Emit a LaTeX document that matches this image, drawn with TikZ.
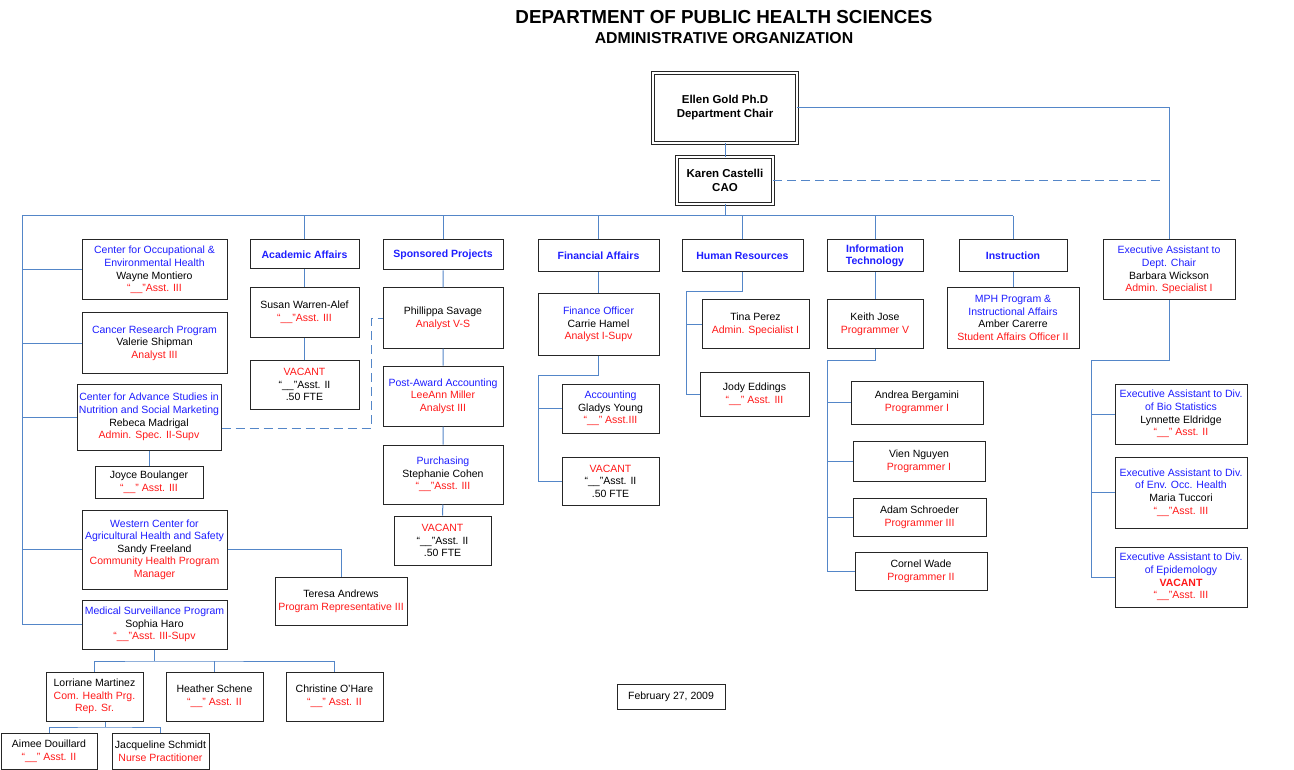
\documentclass[tikz,border=0pt]{standalone}
\usepackage{fontspec}
\setmainfont{Liberation Sans}
\usetikzlibrary{positioning}
\definecolor{orgblue}{RGB}{30,30,255}
\definecolor{orgred}{RGB}{255,25,25}
\definecolor{linkblue}{RGB}{84,134,200}
\newcommand{\bl}[1]{\textcolor{orgblue}{#1}}
\newcommand{\rd}[1]{\textcolor{orgred}{#1}}
\newcommand{\qq}{“\_\_”}
\tikzset{pbox/.style 2 args = {draw=black!85, line width=1pt, fill=white, align=center,
                               inner sep=0.5pt, minimum width=#1, minimum height=#2,
                               font=\fontsize{10.5}{12.6}\selectfont}}
\tikzset{hbox/.style 2 args = {pbox={#1}{#2}, font=\fontsize{10.5}{12.6}\selectfont\bfseries\color{orgblue}}}
\tikzset{chief/.style 2 args = {pbox={#1}{#2}, double=white, double distance=1.6pt, line width=0.8pt,
                                font=\fontsize{11.5}{14}\selectfont\bfseries}}
\tikzset{link/.style = {draw=linkblue, line width=1pt}}
\tikzset{dlink/.style = {link, dash pattern=on 9pt off 5pt}}

\begin{document}
\begin{tikzpicture}[x=1pt, y=-1pt]
      \useasboundingbox (0,0) rectangle (1294,770);
      \node [font=\fontsize{18.8}{22}\selectfont\bfseries] (title) at (724,17) {DEPARTMENT OF PUBLIC HEALTH SCIENCES};
      \node [font=\fontsize{15.8}{18}\selectfont\bfseries] (subtitle) at (724,38) {ADMINISTRATIVE ORGANIZATION};
      % top of the tree
      \node [chief={144}{70}] (chair) at (725,108) {Ellen Gold Ph.D\\Department Chair};
      \node [chief={96}{47}] (cao) at (725,180.5) {Karen Castelli\\CAO};
      \node [pbox={132}{60}] (exec) at (1169,270) {\bl{Executive Assistant to}\\\bl{Dept. Chair}\\Barbara Wickson\\\rd{Admin. Specialist I}};
      % left column
      \node [pbox={145}{60}] (coeh) at (154.5,270) {\bl{Center for Occupational \&}\\\bl{Environmental Health}\\Wayne Montiero\\\rd{\qq Asst. III}};
      \node [pbox={145}{60}] (cancer) at (154.5,343) {\bl{Cancer Research Program}\\Valerie Shipman\\\rd{Analyst III}};
      \node [pbox={144}{66}] (casn) at (149,417) {\bl{Center for Advance Studies in}\\\bl{Nutrition and Social Marketing}\\Rebeca Madrigal\\\rd{Admin. Spec. II-Supv}};
      \node [pbox={108}{32}] (joyce) at (149,482) {Joyce Boulanger\\\rd{\qq{} Asst. III}};
      \node [pbox={145}{79}] (western) at (154.5,549.5) {\bl{Western Center for}\\\bl{Agricultural Health and Safety}\\Sandy Freeland\\\rd{Community Health Program}\\\rd{Manager}};
      \node [pbox={132}{48}] (teresa) at (341,601) {Teresa Andrews\\\rd{Program Representative III}};
      \node [pbox={145}{49}] (med) at (154.5,624.5) {\bl{Medical Surveillance Program}\\Sophia Haro\\\rd{\qq Asst. III-Supv}};
      \node [pbox={97}{49}] (lorr) at (94.5,696.5) {Lorriane Martinez\\\rd{Com. Health Prg.}\\\rd{Rep. Sr.}};
      \node [pbox={97}{49}] (heath) at (214.5,696.5) {Heather Schene\\\rd{\qq{} Asst. II}};
      \node [pbox={97}{49}] (chris) at (334.5,696.5) {Christine O’Hare\\\rd{\qq{} Asst. II}};
      \node [pbox={96}{36}] (aimee) at (49,751) {Aimee Douillard\\\rd{\qq{} Asst. II}};
      \node [pbox={97}{36}] (jacq) at (160.5,751) {Jacqueline Schmidt\\\rd{Nurse Practitioner}};
      % academic affairs and sponsored projects
      \node [hbox={109}{29}] (acad) at (304.5,254.5) {Academic Affairs};
      \node [pbox={109}{49}] (susan) at (304.5,312.5) {Susan Warren-Alef\\\rd{\qq Asst. III}};
      \node [pbox={109}{49}] (vacaa) at (304.5,384.5) {\rd{VACANT}\\\qq Asst. II\\.50 FTE};
      \node [hbox={120}{30}] (spons) at (443,255) {Sponsored Projects};
      \node [pbox={120}{60}] (phil) at (443,318) {Phillippa Savage\\\rd{Analyst V-S}};
      \node [pbox={120}{60}] (postaw) at (443,396) {\bl{Post-Award Accounting}\\\rd{LeeAnn Miller}\\\rd{Analyst III}};
      \node [pbox={120}{59}] (purch) at (443,474.5) {\bl{Purchasing}\\Stephanie Cohen\\\rd{\qq Asst. III}};
      \node [pbox={97}{49}] (vacsp) at (442.5,540.5) {\rd{VACANT}\\\qq Asst. II\\.50 FTE};
      % financial affairs and human resources
      \node [hbox={121}{32}] (finaff) at (598.5,256) {Financial Affairs};
      \node [pbox={121}{61}] (fo) at (598.5,324.5) {\bl{Finance Officer}\\Carrie Hamel\\\rd{Analyst I-Supv}};
      \node [pbox={97}{49}] (acct) at (610.5,408.5) {\bl{Accounting}\\Gladys Young\\\rd{\qq{} Asst.III}};
      \node [pbox={97}{48}] (vacfa) at (610.5,481) {\rd{VACANT}\\\qq Asst. II\\.50 FTE};
      \node [hbox={121}{32}] (hr) at (742.5,256) {Human Resources};
      \node [pbox={107}{48}] (tina) at (755.5,324) {Tina Perez\\\rd{Admin. Specialist I}};
      \node [pbox={109}{44}] (jody) at (754.5,394) {Jody Eddings\\\rd{\qq{} Asst. III}};
      % information technology and instruction
      \node [hbox={96}{32}] (it) at (875,256) {Information\\Technology};
      \node [pbox={96}{48}] (keith) at (875,324) {Keith Jose\\\rd{Programmer V}};
      \node [pbox={132}{43}] (andrea) at (917,402.5) {Andrea Bergamini\\\rd{Programmer I}};
      \node [pbox={132}{40}] (vien) at (919,461) {Vien Nguyen\\\rd{Programmer I}};
      \node [pbox={133}{38}] (adam) at (919.5,517) {Adam Schroeder\\\rd{Programmer III}};
      \node [pbox={132}{38}] (cornel) at (921,571) {Cornel Wade\\\rd{Programmer II}};
      \node [hbox={108}{32}] (instr) at (1013,256) {Instruction};
      \node [pbox={132}{60}] (mph) at (1013,318) {\bl{MPH Program \&}\\\bl{Instructional Affairs}\\Amber Carerre\\\rd{Student Affairs Officer II}};
      % executive assistants
      \node [pbox={132}{60}] (biostat) at (1181,414) {\bl{Executive Assistant to Div.}\\\bl{of Bio Statistics}\\Lynnette Eldridge\\\rd{\qq{} Asst. II}};
      \node [pbox={132}{71}] (envocc) at (1181,492.5) {\bl{Executive Assistant to Div.}\\\bl{of Env. Occ. Health}\\Maria Tuccori\\\rd{\qq Asst. III}};
      \node [pbox={132}{60}] (epid) at (1181,577) {\bl{Executive Assistant to Div.}\\\bl{of Epidemology}\\\rd{\bfseries VACANT}\\\rd{\qq Asst. III}};
      \node [pbox={108}{25}] (date) at (671,696.5) {February 27, 2009};
      % junctions
      \coordinate (busL) at (22,216);
      \coordinate (busR) at (1013,216);
      \coordinate (dashend) at (1163,180.5);
      \coordinate (dashc) at (371,318);
      \coordinate (faj) at (538,375);
      \coordinate (hrj) at (686,292);
      \coordinate (itj) at (827,360);
      \coordinate (exj) at (1091,360);
      \coordinate (medj) at (154.5,661);
      \coordinate (lorrj) at (105,727);
      % connectors
      \draw [link] (chair) -- (cao);
      \draw [link] (cao) -- (cao |- busL);
      \draw [link] (busL) -- (busR);
      \draw [link] (chair.east) -| (exec.north);
      \draw [dlink] (cao.east) -- (dashend);
      \draw [link] (acad.north) -- (acad.north |- busL);
      \draw [link] (spons.north) -- (spons.north |- busL);
      \draw [link] (finaff.north) -- (finaff.north |- busL);
      \draw [link] (hr.north) -- (hr.north |- busL);
      \draw [link] (it.north) -- (it.north |- busL);
      \draw [link] (instr.north) -- (instr.north |- busL);
      \draw [link] (busL) |- (med.west);
      \draw [link] (coeh.west) -- (coeh.west -| busL);
      \draw [link] (cancer.west) -- (cancer.west -| busL);
      \draw [link] (casn.west) -- (casn.west -| busL);
      \draw [link] (western.west) -- (western.west -| busL);
      \draw [link] (casn) -- (joyce);
      \draw [link] (western.east) -| (teresa.north);
      \draw [link] (med.south) -- (medj);
      \draw [link] (lorr.north) |- (medj) -| (chris.north);
      \draw [link] (heath.north) -- (heath.north |- medj);
      \draw [link] (lorr.south -| lorrj) -- (lorrj);
      \draw [link] (aimee.north) |- (lorrj) -| (jacq.north);
      \draw [dlink] ([yshift=-11pt]casn.east) -| (dashc) -- (phil.west);
      \draw [link] (acad) -- (susan) -- (vacaa);
      \draw [link] (spons) -- (phil) -- (postaw) -- (purch) -- (vacsp);
      \draw [link] (finaff) -- (fo);
      \draw [link] (fo.south) |- (faj) |- (vacfa.west);
      \draw [link] (acct.west) -- (acct.west -| faj);
      \draw [link] (hr.south) |- (hrj) |- (jody.west);
      \draw [link] (tina.west) -- (tina.west -| hrj);
      \draw [link] (it) -- (keith);
      \draw [link] (keith.south) |- (itj) |- (cornel.west);
      \draw [link] (andrea.west) -- (andrea.west -| itj);
      \draw [link] (vien.west) -- (vien.west -| itj);
      \draw [link] (adam.west) -- (adam.west -| itj);
      \draw [link] (instr) -- (mph);
      \draw [link] (exec.south) |- (exj) |- (epid.west);
      \draw [link] (biostat.west) -- (biostat.west -| exj);
      \draw [link] (envocc.west) -- (envocc.west -| exj);
\end{tikzpicture}
\end{document}
